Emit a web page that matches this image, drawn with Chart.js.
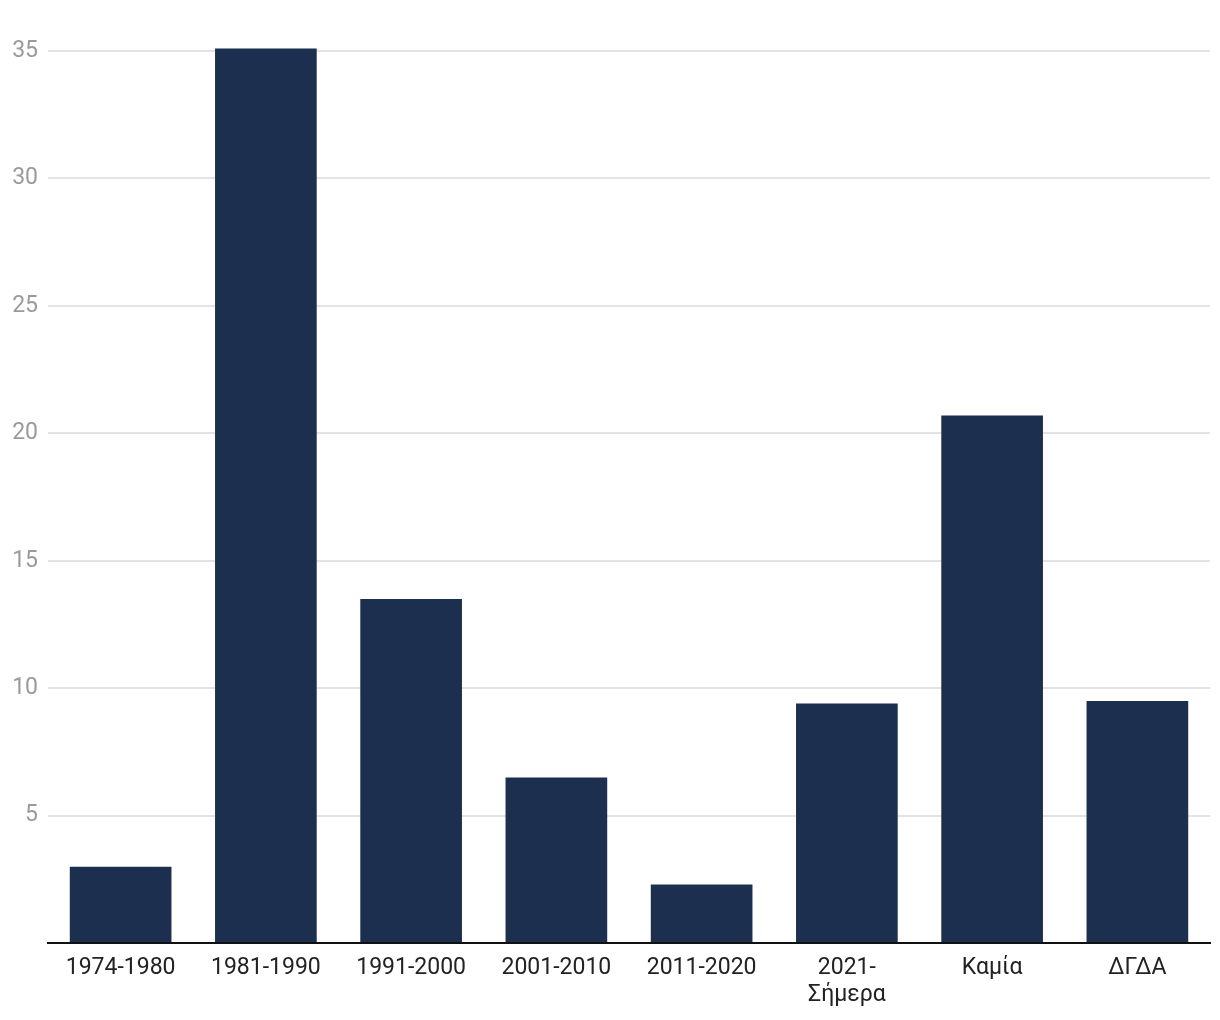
<!DOCTYPE html>
<html>
<head>
    <title>Bar chart</title>
    <script src="https://cdn.jsdelivr.net/npm/chart.js"></script>
    <style>
        html, body {
            margin: 0;
            padding: 0;
            background: #fff;
        }
        #wrap {
            width: 1220px;
            height: 1020px;
        }
    </style>
</head>
<body>
    <div id="wrap"><canvas id="chart"></canvas></div>

    <script>
        const categories = ['1974-1980', '1981-1990', '1991-2000', '2001-2010', '2011-2020', ['2021-', 'Σήμερα'], 'Καμία', 'ΔΓΔΑ'];
        const values = [3.0, 35.1, 13.5, 6.5, 2.3, 9.4, 20.7, 9.5];
        const yTicks = [5, 10, 15, 20, 25, 30, 35];

        Chart.defaults.font.family = 'Roboto, sans-serif';

        const ctx = document.getElementById('chart').getContext('2d');
        new Chart(ctx, {
            type: 'bar',
            data: {
                labels: categories,
                datasets: [{
                    data: values,
                    backgroundColor: '#1c2f4f',
                    barPercentage: 0.7,
                    categoryPercentage: 1.0,
                    clip: false
                }]
            },
            options: {
                responsive: true,
                maintainAspectRatio: false,
                animation: false,
                layout: { padding: { top: 51, right: 10, left: 0, bottom: 0 } },
                plugins: {
                    legend: { display: false },
                    tooltip: { enabled: false }
                },
                scales: {
                    x: {
                        grid: { display: false, drawTicks: false },
                        border: { display: true, color: '#111', width: 2 },
                        ticks: {
                            color: '#222',
                            font: { size: 23, lineHeight: 1.15 },
                            padding: 12,
                            maxRotation: 0,
                            autoSkip: false
                        }
                    },
                    y: {
                        min: 0,
                        max: 35,
                        afterBuildTicks: function(axis) {
                            axis.ticks = [0].concat(yTicks).map(v => ({ value: v }));
                        },
                        afterFit: function(axis) {
                            axis.width = 48;
                        },
                        grid: {
                            drawTicks: false,
                            color: c => c.tick.value === 0 ? 'rgba(0,0,0,0)' : '#e3e3e3',
                            lineWidth: 2
                        },
                        border: { display: false },
                        ticks: {
                            color: '#9a9a9a',
                            font: { size: 23 },
                            padding: 10,
                            callback: v => v === 0 ? '' : v
                        }
                    }
                }
            }
        });
    </script>
</body>
</html>
